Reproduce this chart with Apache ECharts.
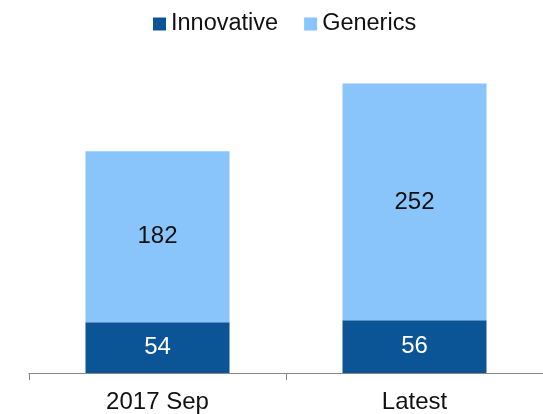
<!DOCTYPE html>
<html>
<head>
<meta charset="utf-8">
<script src="https://cdn.jsdelivr.net/npm/echarts@6/dist/echarts.min.js"></script>
<style>html,body{margin:0;padding:0;background:#fff}#c{width:543px;height:414px}</style>
</head>
<body>
<div id="c"></div>
<script>
const categories = ['2017 Sep', 'Latest'];
const innovative = [54, 56];
const generics = [182, 252];
const seriesNames = ['Innovative', 'Generics'];

const chart = echarts.init(document.getElementById('c'));
const font = 'Liberation Sans, Arial, sans-serif';
chart.setOption({
  animation: false,
  legend: {
    top: 7, left: 148,
    itemWidth: 13, itemHeight: 13, itemGap: 26,
    icon: 'rect',
    textStyle: { fontFamily: font, fontSize: 23.5, color: '#111', padding: [0, 0, 0, 0] },
    data: seriesNames
  },
  grid: { left: 29, width: 520, top: 44, bottom: 41 },
  xAxis: {
    type: 'category', data: categories,
    axisLine: { lineStyle: { color: '#888', width: 1 } },
    axisTick: { show: true, length: 7, lineStyle: { color: '#888' } },
    axisLabel: { fontFamily: font, fontSize: 24, color: '#111', margin: 17 }
  },
  yAxis: { type: 'value', min: 0, max: 350, show: false, splitLine: { show: false } },
  series: [
    {
      name: seriesNames[0], type: 'bar', stack: 's', data: innovative, barWidth: 144,
      itemStyle: { color: '#0B5597' },
      label: { show: true, position: 'inside', color: '#fff', fontFamily: font, fontSize: 24 }
    },
    {
      name: seriesNames[1], type: 'bar', stack: 's', data: generics, barWidth: 144,
      itemStyle: { color: '#89C4FA' },
      label: { show: true, position: 'inside', color: '#111', fontFamily: font, fontSize: 24 }
    }
  ]
});
</script>
</body>
</html>
